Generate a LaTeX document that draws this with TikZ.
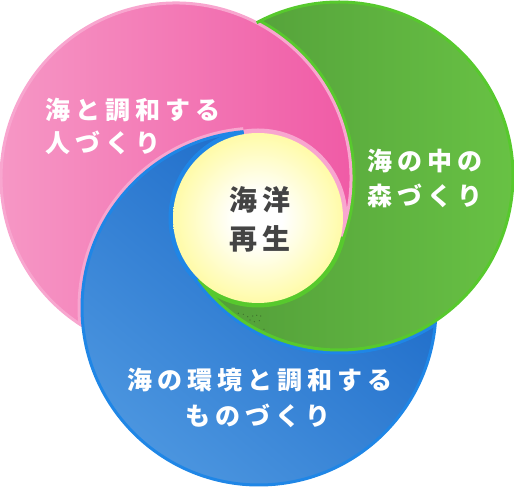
\documentclass[tikz,border=0pt]{standalone}
\usepackage{fontspec}
\usetikzlibrary{calc}
\newfontfamily\jp{Noto Sans CJK JP}[LetterSpace=20]
\newfontfamily\jpc{Noto Sans CJK JP}[LetterSpace=18]
\definecolor{pinkL}{HTML}{F697C5}
\definecolor{pinkR}{HTML}{F05BA6}
\definecolor{pinkS}{HTML}{F8A6CF}
\definecolor{greenD}{HTML}{4F9838}
\definecolor{greenL}{HTML}{68C244}
\definecolor{greenS}{HTML}{57C92D}
\definecolor{blueL}{HTML}{4B95DF}
\definecolor{blueD}{HTML}{1766C6}
\definecolor{blueS}{HTML}{1F86E6}
\definecolor{yel}{HTML}{FFFA90}
\definecolor{txtgray}{HTML}{444444}
\definecolor{dotc}{HTML}{3A6A2A}
\pgfdeclareradialshading{yelshade}{\pgfpoint{0bp}{0bp}}{color(0bp)=(white); color(7bp)=(white); color(30bp)=(yel); color(50bp)=(yel)}
\tikzset{
  pinkshade/.style={left color=pinkL, right color=pinkR},
  greenshade/.style={left color=greenD, right color=greenL},
  blueshade/.style={top color=blueD, bottom color=blueL, shading angle=-40},
  edge/.style={line width=3pt},
  bandline/.style={line width=9pt},
  ringline/.style={line width=9pt},
  whitetxt/.style={text=white, inner sep=0pt, font=\jp\bfseries\fontsize{25}{30}\selectfont},
  centertxt/.style={text=txtgray, inner sep=0pt, font=\jpc\bfseries\fontsize{28}{32}\selectfont},
  dotmark/.style={fill=dotc, draw=none}
}
% visible regions of the three circles (inner edges run under the centre disc)
\newcommand\VPpath{($(P)+(-19.46:175)$) arc[start angle=-19.46, end angle=237.9, radius=175] arc[start angle=185.9, end angle=95, radius=177] -- ($(C)+(99.49:80)$) arc[start angle=99.49, end angle=-12.43, radius=80] -- cycle}
\newcommand\VBpath{($(B)+(95:177)$) arc[start angle=95, end angle=355.85, radius=177] arc[start angle=-56.32, end angle=-143.77, radius=174] -- ($(C)+(225.71:80)$) arc[start angle=225.71, end angle=99.49, radius=80] -- cycle}
\newcommand\VGpath{($(G)+(216.23:174)$) arc[start angle=216.23, end angle=478.24, radius=174] arc[start angle=62.54, end angle=-19.46, radius=175] -- ($(C)+(-12.43:80)$) arc[start angle=-12.43, end angle=-134.29, radius=80] -- cycle}
\begin{document}
\begin{tikzpicture}[x=1pt,y=1pt]
\useasboundingbox (0,0) rectangle (514,487);
\coordinate (C) at (258,269);
\coordinate (P) at (176,309);
\coordinate (G) at (339,311);
\coordinate (B) at (259,179);
% fills
\begin{scope}\clip \VPpath; \shade[pinkshade] (P) circle[radius=176]; \end{scope}
\begin{scope}\clip \VGpath; \shade[greenshade] (G) circle[radius=175]; \end{scope}
\begin{scope}\clip \VBpath; \shade[blueshade] (B) circle[radius=178]; \end{scope}
% bands of the lower colour along the covering edges
\begin{scope}\clip \VGpath; \draw[bandline, greenS] ($(P)+(-19.46:175)$) arc[start angle=-19.46, end angle=62.54, radius=175]; \end{scope}
\begin{scope}\clip \VPpath; \draw[bandline, pinkS] ($(B)+(95:177)$) arc[start angle=95, end angle=185.9, radius=177]; \end{scope}
\begin{scope}\clip \VBpath; \draw[bandline, blueS] ($(G)+(216.23:174)$) arc[start angle=216.23, end angle=303.68, radius=174]; \end{scope}
% rings round the centre disc
\begin{scope}\clip \VPpath; \draw[ringline, pinkS] (C) circle[radius=85]; \end{scope}
\begin{scope}\clip \VGpath; \draw[ringline, greenS] (C) circle[radius=85]; \end{scope}
\begin{scope}\clip \VBpath; \draw[ringline, blueS] (C) circle[radius=85]; \end{scope}
% edges
\draw[edge, pinkS] ($(P)+(-19.46:175)$) arc[start angle=-19.46, end angle=237.9, radius=175];
\draw[edge, blueS] ($(B)+(95:177)$) arc[start angle=95, end angle=355.85, radius=177];
\draw[edge, greenS] ($(G)+(216.23:174)$) arc[start angle=216.23, end angle=478.24, radius=174];
% centre
\shade[shading=yelshade] (C) circle[radius=85];
% dots
\foreach \dx/\dy in {238.3/173.7, 243.3/172.7, 247.7/170.3, 252.7/171, 256.7/171.7, 260.7/171, 250/167, 254.3/165.3, 259.3/166.3, 264/157.7}
  \fill[dotmark] (\dx,\dy) circle[radius=0.6];
% texts
\node[whitetxt, anchor=base west] (p1) at (45,367.5) {海と調和する};
\node[whitetxt, anchor=base west] (p2) at (45,334) {人づくり};
\node[whitetxt, anchor=base west] (g1) at (367,316.5) {海の中の};
\node[whitetxt, anchor=base west] (g2) at (367,281.5) {森づくり};
\node[whitetxt, anchor=base] (b1) at (259.5,97.5) {海の環境と調和する};
\node[whitetxt, anchor=base] (b2) at (257.5,61.5) {ものづくり};
\node[centertxt, anchor=base] (c1) at (260,276.4) {海洋};
\node[centertxt, anchor=base] (c2) at (260,237.4) {再生};
\end{tikzpicture}
\end{document}
